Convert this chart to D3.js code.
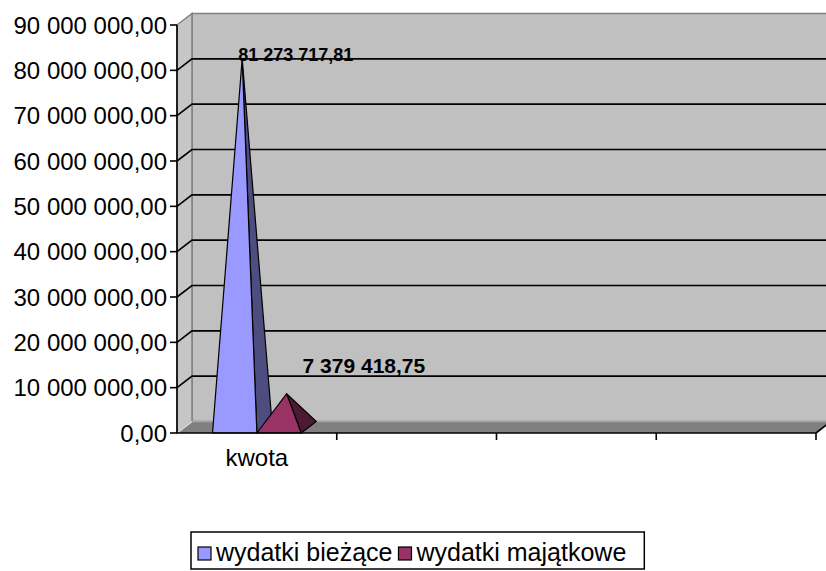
<!DOCTYPE html>
<html><head><meta charset="utf-8">
<script src="https://cdn.jsdelivr.net/npm/d3@7/dist/d3.min.js"></script>
<style>body{margin:0;background:#fff}svg{display:block}text{font-family:Arial,"Liberation Sans",sans-serif}</style>
</head><body>
<svg id="c" width="826" height="571"></svg>
<script>
// ---- data ----
const categories = ["kwota", "", "", ""];
const seriesNames = ["wydatki bieżące", "wydatki majątkowe"];
const biezace = [81273717.81];
const majatkowe = [7379418.75];
const yTickValues = [0, 10000000, 20000000, 30000000, 40000000, 50000000, 60000000, 70000000, 80000000, 90000000];

// ---- styles ----
const frontColors = ["#9999ff", "#993366"];
const sideColors = ["#4d4d80", "#4d1a33"];
const labelStyle = [{dx: -4, dy: 2, size: 18}, {dx: 16, dy: -21, size: 21}];
const DX = 15, DY = -11.5;

const svg = d3.select("#c");
const loc = d3.formatLocale({decimal: ",", thousands: " ", grouping: [3], currency: ["", ""]});
const fmt = loc.format(",.2f");

const y = d3.scaleLinear().domain([0, 90000000]).range([433, 25]);
const x = d3.scaleBand().domain(d3.range(categories.length)).range([177, 816]).padding(0);
const xs = d3.scaleBand().domain(d3.range(seriesNames.length)).range([0, x.bandwidth()]).paddingInner(0).paddingOuter(0.8);

const x0 = x.range()[0], x1 = x.range()[1];
const yTop = y(90000000), yBot = y(0);
const poly = pts => pts.map(p => p.join(",")).join(" ");

// back wall
svg.append("polygon").attr("points", poly([[x0+DX, yTop+DY],[x1+DX+20, yTop+DY],[x1+DX+20, yBot+DY],[x0+DX, yBot+DY]]))
  .attr("fill", "#c0c0c0").attr("stroke", "#808080").attr("stroke-width", 1.5);
// left wall
svg.append("polygon").attr("points", poly([[x0, yTop],[x0+DX, yTop+DY],[x0+DX, yBot+DY],[x0, yBot]]))
  .attr("fill", "#c6c6c6").attr("stroke", "#808080").attr("stroke-width", 1.5);
// floor
svg.append("polygon").attr("points", poly([[x0, yBot],[x1, yBot],[x1+DX, yBot+DY],[x0+DX, yBot+DY]]))
  .attr("fill", "#808080");
svg.append("line").attr("x1", x0+DX).attr("x2", x1+DX+20).attr("y1", yBot+DY).attr("y2", yBot+DY).attr("stroke", "#a6a6a6").attr("stroke-width", 1.5);
svg.append("line").attr("x1", x0).attr("x2", x0+DX).attr("y1", yBot).attr("y2", yBot+DY).attr("stroke", "#e0e0e0").attr("stroke-width", 1.5);

// gridlines
const grid = yTickValues.filter(v => v > 0 && v < 90000000);
svg.append("g").selectAll("path").data(grid).join("path")
  .attr("d", v => `M${x0},${y(v)}L${x0+DX},${y(v)+DY}L${x1+DX+20},${y(v)+DY}`)
  .attr("fill", "none").attr("stroke", "#000").attr("stroke-width", 1.6);

// pyramids
const series = [biezace, majatkowe];
const g = svg.append("g");
categories.forEach((c, ci) => {
  series.forEach((vals, si) => {
    const v = vals[ci];
    if (v == null) return;
    const bx0 = x(ci) + xs(si), bx1 = bx0 + xs.bandwidth();
    const by = y(0);
    const ax = (bx0 + bx1) / 2 + DX / 2, ay = y(v) + DY / 2;
    g.append("polygon").attr("points", poly([[bx1, by],[bx1+DX, by+DY],[ax, ay]]))
      .attr("fill", sideColors[si]).attr("stroke", "#000").attr("stroke-width", 1.2).attr("stroke-linejoin", "round");
    g.append("polygon").attr("points", poly([[bx0, by],[bx1, by],[ax, ay]]))
      .attr("fill", frontColors[si]).attr("stroke", "#000").attr("stroke-width", 1.2).attr("stroke-linejoin", "round");
    const ls = labelStyle[si];
    g.append("text").attr("x", ax + ls.dx).attr("y", ay + ls.dy)
      .attr("font-size", ls.size).attr("font-weight", "bold").attr("fill", "#000").text(fmt(v));
  });
});

// axes
const ax = svg.append("g").attr("stroke", "#000").attr("stroke-width", 1.6);
ax.append("line").attr("x1", x0).attr("x2", x0).attr("y1", yTop).attr("y2", yBot);
ax.selectAll(".yt").data(yTickValues).join("line").attr("x1", x0-7).attr("x2", x0).attr("y1", d => y(d)).attr("y2", d => y(d));
ax.append("line").attr("x1", x0).attr("x2", x1).attr("y1", yBot).attr("y2", yBot);
ax.append("line").attr("x1", x1).attr("x2", x1+DX).attr("y1", yBot).attr("y2", yBot+DY);
const bounds = d3.range(categories.length + 1).map(i => i < categories.length ? x(i) : x1);
ax.selectAll(".xt").data(bounds.slice(1)).join("line").attr("x1", d => d).attr("x2", d => d).attr("y1", yBot).attr("y2", yBot+7);

svg.append("g").selectAll("text").data(yTickValues).join("text")
  .attr("x", 167).attr("y", d => y(d)).attr("dy", "0.36em").attr("text-anchor", "end")
  .attr("font-size", 24).attr("fill", "#000").text(d => fmt(d));

svg.append("g").selectAll("text").data(categories).join("text")
  .attr("x", (d, i) => x(i) + x.bandwidth() / 2).attr("y", 466).attr("text-anchor", "middle")
  .attr("font-size", 24).attr("fill", "#000").text(d => d);

// legend
const lg = svg.append("g");
const box = lg.append("rect").attr("x", 191).attr("y", 532).attr("height", 37).attr("fill", "#fff").attr("stroke", "#000").attr("stroke-width", 1.5);
let cx = 198;
seriesNames.forEach((n, i) => {
  lg.append("rect").attr("x", cx).attr("y", 547).attr("width", 13).attr("height", 13).attr("fill", frontColors[i]).attr("stroke", "#000").attr("stroke-width", 1.2);
  const t = lg.append("text").attr("x", cx + 18).attr("y", 561).attr("font-size", 25).attr("fill", "#000").text(n);
  cx = cx + 18 + t.node().getComputedTextLength() + 6;
});
box.attr("width", cx - 191 + 12);
</script>
</body></html>
